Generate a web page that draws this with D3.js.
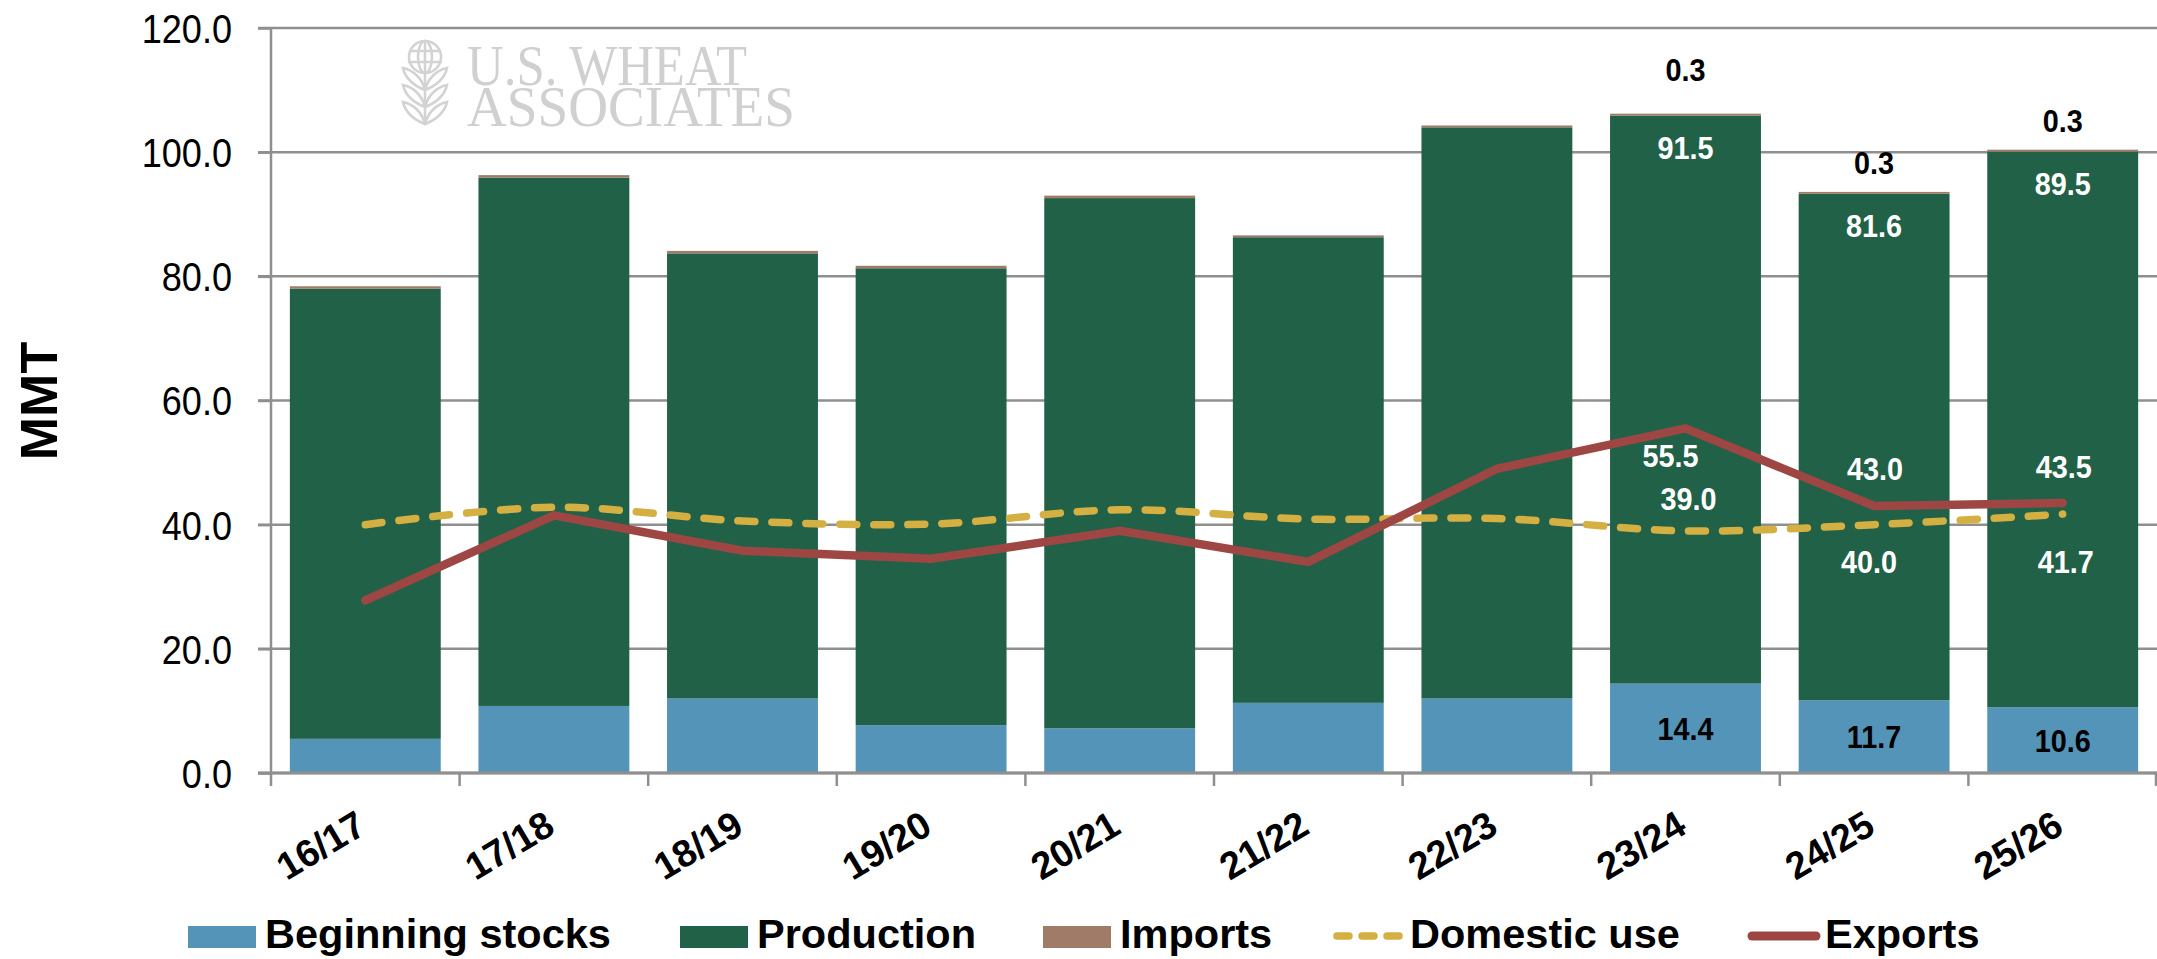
<!DOCTYPE html>
<html>
<head>
<meta charset="utf-8">
<script src="https://cdn.jsdelivr.net/npm/d3@7/dist/d3.min.js"></script>
<style>
  html, body { margin: 0; padding: 0; background: #ffffff; }
  svg { display: block; }
</style>
</head>
<body>
<svg id="chart" width="2157" height="959"></svg>
<script>
// ---- Data (MMT) ----
const seasons = ["16/17", "17/18", "18/19", "19/20", "20/21", "21/22", "22/23", "23/24", "24/25", "25/26"];
const beginningStocks = [5.5, 10.8, 12.0, 7.7, 7.2, 11.3, 12.0, 14.4, 11.7, 10.6];
const production = [72.5, 85.1, 71.7, 73.6, 85.4, 75.0, 92.0, 91.5, 81.6, 89.5];
const imports = [0.4, 0.4, 0.4, 0.4, 0.4, 0.3, 0.3, 0.3, 0.3, 0.3];
const domesticUse = [40.0, 42.8, 40.6, 40.1, 42.4, 40.9, 41.0, 39.0, 40.0, 41.7];
const exportVolumes = [27.8, 41.5, 35.8, 34.5, 39.0, 34.0, 49.0, 55.5, 43.0, 43.5];
const yTicks = [0, 20, 40, 60, 80, 100, 120];
const legendLabels = ["Beginning stocks", "Production", "Imports", "Domestic use", "Exports"];
const labeledSeasons = ["23/24", "24/25", "25/26"];

// ---- Styling / layout ----
const colors = {
  stocks: "#5394b8",
  production: "#216148",
  imports: "#a07c68",
  domestic: "#d4b043",
  exports: "#9e4643",
  grid: "#8f8f8f"
};
const plot = { left: 271, right: 2157, top: 28, bottom: 773 };
const sansFont = "'Liberation Sans', Arial, Helvetica, sans-serif";
const serifFont = "'Liberation Serif', 'Times New Roman', serif";

// label nudges (pixels) for the annotated seasons, in labeledSeasons order
const importLift = [44, 29, 29];
const exportShift = [[-15, 27], [1, -38], [1, -36]];
const domesticShift = [[3, -32], [-5, 37], [3, 47]];

const svg = d3.select("#chart");

const x = d3.scaleBand()
  .domain(seasons)
  .range([plot.left, plot.right])
  .paddingInner(0.2)
  .paddingOuter(0.1);

const y = d3.scaleLinear()
  .domain([0, 120])
  .range([plot.bottom, plot.top]);

const center = s => x(s) + x.bandwidth() / 2;
const bandStart = s => x(s) - x.step() * x.paddingOuter();

// ---- Watermark logo ----
const logo = svg.append("g").attr("class", "logo");
const icon = logo.append("g")
  .attr("fill", "none")
  .attr("stroke", "#d3d3d3")
  .attr("stroke-width", 2.6)
  .attr("stroke-linecap", "round");
icon.append("circle").attr("cx", 425).attr("cy", 57).attr("r", 16);
icon.append("ellipse").attr("cx", 425).attr("cy", 57).attr("rx", 7).attr("ry", 16);
icon.append("line").attr("x1", 425).attr("x2", 425).attr("y1", 41).attr("y2", 124);
icon.append("line").attr("x1", 410).attr("x2", 440).attr("y1", 51).attr("y2", 51);
icon.append("line").attr("x1", 409).attr("x2", 441).attr("y1", 62).attr("y2", 62);
[80, 97, 114].forEach(ly => {
  icon.append("path").attr("d", `M425,${ly + 10} C414,${ly + 6} 405,${ly - 2} 403,${ly - 12} C413,${ly - 10} 422,${ly - 2} 425,${ly + 10}`);
  icon.append("path").attr("d", `M425,${ly + 10} C436,${ly + 6} 445,${ly - 2} 447,${ly - 12} C437,${ly - 10} 428,${ly - 2} 425,${ly + 10}`);
});
const logoText = logo.append("text")
  .attr("font-family", serifFont)
  .attr("font-size", 58)
  .attr("fill", "#d0d0d0");
logoText.append("tspan")
  .attr("x", 467).attr("y", 85)
  .attr("textLength", 280)
  .attr("lengthAdjust", "spacingAndGlyphs")
  .text("U.S. WHEAT");
logoText.append("tspan")
  .attr("x", 467).attr("y", 126)
  .attr("textLength", 328)
  .attr("lengthAdjust", "spacingAndGlyphs")
  .text("ASSOCIATES");

// ---- Gridlines ----
svg.append("g").attr("class", "grid")
  .selectAll("line")
  .data(yTicks)
  .join("line")
  .attr("x1", plot.left - 13)
  .attr("x2", plot.right)
  .attr("y1", d => y(d))
  .attr("y2", d => y(d))
  .attr("stroke", colors.grid)
  .attr("stroke-width", 2.5);

// ---- Stacked bars ----
const rows = seasons.map((s, i) => ({
  season: s,
  stocks: beginningStocks[i],
  production: production[i],
  imports: imports[i]
}));
const stackKeys = ["stocks", "production", "imports"];
const stacked = d3.stack().keys(stackKeys)(rows);

svg.append("g").attr("class", "bars")
  .selectAll("g")
  .data(stacked)
  .join("g")
  .attr("fill", d => colors[d.key])
  .selectAll("rect")
  .data(d => d)
  .join("rect")
  .attr("x", d => x(d.data.season))
  .attr("width", x.bandwidth())
  .attr("y", d => y(d[1]))
  .attr("height", d => y(d[0]) - y(d[1]));

// ---- Y axis ----
const yAxis = svg.append("g")
  .attr("transform", `translate(${plot.left},0)`)
  .call(d3.axisLeft(y).tickValues(yTicks).tickFormat(d3.format(".1f")).tickSize(13).tickSizeOuter(0));
yAxis.select(".domain").remove();
yAxis.selectAll(".tick line").attr("stroke", colors.grid).attr("stroke-width", 2.5);
yAxis.selectAll(".tick text")
  .attr("font-family", sansFont)
  .attr("font-size", 41)
  .attr("fill", "#000")
  .attr("transform", "scale(0.88,1)")
  .attr("x", -39 / 0.88)
  .attr("dy", "0.35em");

svg.append("line")
  .attr("x1", plot.left).attr("x2", plot.left)
  .attr("y1", plot.top).attr("y2", plot.bottom + 13)
  .attr("stroke", colors.grid).attr("stroke-width", 2.5);

// ---- X axis ----
const xAxis = svg.append("g")
  .attr("transform", `translate(0,${plot.bottom})`)
  .call(d3.axisBottom(x).tickSize(0).tickSizeOuter(0));
xAxis.select(".domain").remove();
xAxis.selectAll(".tick text")
  .attr("font-family", sansFont)
  .attr("font-size", 38)
  .attr("font-weight", "bold")
  .attr("fill", "#000")
  .attr("text-anchor", "end")
  .attr("x", 0).attr("y", 0).attr("dy", 0)
  .attr("transform", "translate(3,59) rotate(-31)");

svg.append("line")
  .attr("x1", plot.left - 13).attr("x2", plot.right)
  .attr("y1", plot.bottom).attr("y2", plot.bottom)
  .attr("stroke", colors.grid).attr("stroke-width", 3);
svg.append("g").selectAll("line")
  .data(seasons.slice(1).map(bandStart).concat([plot.right - 1]))
  .join("line")
  .attr("x1", d => d).attr("x2", d => d)
  .attr("y1", plot.bottom).attr("y2", plot.bottom + 13)
  .attr("stroke", colors.grid).attr("stroke-width", 2.5);

// ---- Lines ----
const domesticLine = d3.line()
  .x((d, i) => center(seasons[i]))
  .y(d => y(d))
  .curve(d3.curveCatmullRom.alpha(0.5));
const exportLine = d3.line()
  .x((d, i) => center(seasons[i]))
  .y(d => y(d));

svg.append("path")
  .datum(domesticUse)
  .attr("d", domesticLine)
  .attr("fill", "none")
  .attr("stroke", colors.domestic)
  .attr("stroke-width", 7.5)
  .attr("stroke-linecap", "round")
  .attr("stroke-dasharray", "17,17");

svg.append("path")
  .datum(exportVolumes)
  .attr("d", exportLine)
  .attr("fill", "none")
  .attr("stroke", colors.exports)
  .attr("stroke-width", 8.5)
  .attr("stroke-linecap", "round")
  .attr("stroke-linejoin", "miter");

// ---- Value labels ----
const labelFmt = d3.format(".1f");
const labels = svg.append("g").attr("class", "value-labels");
function valueLabel(cx, cy, value, fill) {
  labels.append("g")
    .attr("transform", `translate(${cx},${cy + 11.5}) scale(0.9,1)`)
    .append("text")
    .attr("text-anchor", "middle")
    .attr("font-family", sansFont)
    .attr("font-size", 32)
    .attr("font-weight", "bold")
    .attr("fill", fill)
    .text(labelFmt(value));
}

labeledSeasons.forEach((s, k) => {
  const i = seasons.indexOf(s);
  const cx = center(s);
  const stockTop = beginningStocks[i];
  const prodTop = stockTop + production[i];
  const total = prodTop + imports[i];
  valueLabel(cx, (y(0) + y(stockTop)) / 2, beginningStocks[i], "#000");
  valueLabel(cx, y(prodTop) + 32, production[i], "#fff");
  valueLabel(cx, y(total) - importLift[k], imports[i], "#000");
  valueLabel(cx + exportShift[k][0], y(exportVolumes[i]) + exportShift[k][1], exportVolumes[i], "#fff");
  valueLabel(cx + domesticShift[k][0], y(domesticUse[i]) + domesticShift[k][1], domesticUse[i], "#fff");
});

// ---- Y axis title ----
svg.append("text")
  .attr("transform", "translate(57,401) rotate(-90)")
  .attr("text-anchor", "middle")
  .attr("font-family", sansFont)
  .attr("font-size", 52)
  .attr("font-weight", "bold")
  .attr("fill", "#000")
  .text("MMT");

// ---- Legend ----
const legendX = [188, 680, 1043, 1333, 1748];
const legendKinds = ["stocks", "production", "imports", "domestic", "exports"];
const legend = svg.append("g").attr("class", "legend");
legendLabels.forEach((name, i) => {
  const kind = legendKinds[i];
  const lx = legendX[i];
  const item = legend.append("g");
  if (kind === "domestic") {
    item.append("line")
      .attr("x1", lx + 4).attr("x2", lx + 70)
      .attr("y1", 936).attr("y2", 936)
      .attr("stroke", colors.domestic)
      .attr("stroke-width", 7.5)
      .attr("stroke-linecap", "round")
      .attr("stroke-dasharray", "12,13");
  } else if (kind === "exports") {
    item.append("line")
      .attr("x1", lx + 4).attr("x2", lx + 68)
      .attr("y1", 936).attr("y2", 936)
      .attr("stroke", colors.exports)
      .attr("stroke-width", 9)
      .attr("stroke-linecap", "round");
  } else {
    item.append("rect")
      .attr("x", lx).attr("y", 926)
      .attr("width", 68).attr("height", 22)
      .attr("fill", colors[kind]);
  }
  item.append("text")
    .attr("x", lx + 77).attr("y", 948)
    .attr("font-family", sansFont)
    .attr("font-size", 41.5)
    .attr("font-weight", "bold")
    .attr("fill", "#000")
    .text(name);
});
</script>
</body>
</html>
